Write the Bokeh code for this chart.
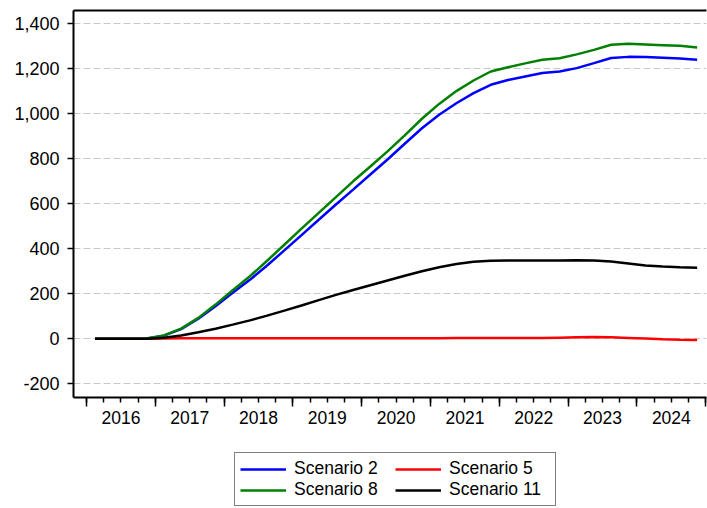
from bokeh.plotting import figure
from bokeh.layouts import column
from bokeh.models import (Range1d, LinearAxis, FixedTicker, NumeralTickFormatter,
                          Legend, LegendItem)
from bokeh.embed import file_html
from bokeh.resources import INLINE

# ---- data (quarterly, 2016Q1 .. 2024Q4) ----
years = ["2016", "2017", "2018", "2019", "2020", "2021", "2022", "2023", "2024"]
scenario_2 = [0, 0, 0, 1, 14, 43, 89, 145, 205, 262, 326, 393, 461, 529, 597, 663,
              730, 797, 867, 936, 996, 1047, 1092, 1129, 1150, 1166, 1181, 1188,
              1203, 1225, 1248, 1253, 1252, 1249, 1246, 1240]
scenario_5 = [0, 0, 0, 0.5, 1.5, 2, 2, 2, 2, 2, 2, 2, 2, 2, 2, 2, 2, 2, 2, 2, 2,
              3, 3, 3, 3, 3, 3, 5, 7, 8, 7, 4, 1, -2, -4, -5]
scenario_8 = [0, 0, 0, 1, 15, 45, 93, 152, 216, 278, 347, 418, 490, 560, 630, 700,
              766, 833, 904, 978, 1044, 1101, 1148, 1188, 1207, 1224, 1240, 1247,
              1264, 1284, 1307, 1311, 1308, 1305, 1302, 1295]
scenario_11 = [0, 0, 0, 0, 5, 15, 29, 45, 63, 82, 103, 125, 148, 172, 195, 217,
               238, 259, 280, 300, 318, 332, 342, 347, 348, 348, 348, 348, 349,
               348, 344, 335, 326, 321, 318, 316]
y_ticks = [-200, 0, 200, 400, 600, 800, 1000, 1200, 1400]
names = ["Scenario 2", "Scenario 5", "Scenario 8", "Scenario 11"]
colors = ["#0000ff", "#ff0000", "#008000", "#000000"]

FONT = "Liberation Sans"

# quarter positions: observation drawn at the middle of its quarter
quarters = [(int(y), q) for y in years for q in range(1, 5)]
xq = [yr + (q - 0.5) / 4 for yr, q in quarters]
year_bounds = [int(y) for y in years] + [int(years[-1]) + 1]
quarter_bounds = [int(years[0]) + k / 4 for k in range(len(quarters) + 1)]
year_mids = [int(y) + 0.5 for y in years]

p = figure(width=707, height=440, output_backend="svg", toolbar_location=None,
           x_range=Range1d(2015.811, 2025.011), y_range=Range1d(-260.9, 1459.1),
           min_border_left=73, min_border_right=1, min_border_top=10,
           min_border_bottom=43, x_axis_location=None, y_axis_location="left")
p.outline_line_color = None
p.background_fill_color = "white"
p.border_fill_color = "white"

# y axis
yt = FixedTicker(ticks=y_ticks)
ax = p.yaxis[0]
ax.ticker = yt
ax.formatter = NumeralTickFormatter(format="0,0")
ax.major_tick_out = 6
ax.major_tick_in = 0
ax.minor_tick_out = 0
ax.minor_tick_in = 0
ax.major_tick_line_width = 1.5
ax.axis_line_width = 2
ax.major_label_standoff = 8
ax.major_label_text_font = FONT
ax.major_label_text_font_size = "18px"
ax.major_label_text_color = "black"

p.ygrid.ticker = yt
p.ygrid.grid_line_color = "#c8c8c8"
p.ygrid.grid_line_dash = "7 3"
p.ygrid.grid_line_width = 1
p.xgrid.grid_line_color = None

# top frame line
top = LinearAxis(ticker=FixedTicker(ticks=[]), major_tick_out=0, major_tick_in=0,
                 minor_tick_out=0, minor_tick_in=0, major_label_standoff=0,
                 major_label_text_font_size="1px", major_label_text_color=None,
                 axis_line_width=2, axis_line_color="black")
p.add_layout(top, "above")

# bottom axis: year / quarter tick marks (labels not drawn)
ax1 = LinearAxis(ticker=FixedTicker(ticks=year_bounds, minor_ticks=quarter_bounds),
                 major_tick_out=9, major_tick_in=0, minor_tick_out=5, minor_tick_in=0,
                 major_tick_line_width=1.5, minor_tick_line_width=1.5,
                 major_label_text_font_size="1px", major_label_text_color=None,
                 major_label_standoff=0,
                 axis_line_width=2, axis_line_color="black")
p.add_layout(ax1, "below")

# year labels centred in each year
ax2 = LinearAxis(ticker=FixedTicker(ticks=year_mids),
                 major_label_overrides={m: y for m, y in zip(year_mids, years)},
                 axis_line_color=None, major_tick_line_color=None,
                 minor_tick_line_color=None, major_tick_out=0, major_tick_in=0,
                 minor_tick_out=0, minor_tick_in=0, major_label_standoff=4,
                 major_label_text_font=FONT, major_label_text_font_size="17.5px",
                 major_label_text_color="black")
p.add_layout(ax2, "below")

lw = 2.5
series = [scenario_2, scenario_5, scenario_8, scenario_11]
for k in range(len(series)):
    p.line(xq, series[k], line_color=colors[k], line_width=lw)

# legend strip below the chart (its lines lie outside this strip's ranges)
p2 = figure(width=707, height=68, output_backend="svg", toolbar_location=None,
            x_range=Range1d(0, 1), y_range=Range1d(0, 1), min_border=0,
            x_axis_location=None, y_axis_location=None)
p2.outline_line_color = None
p2.background_fill_color = "white"
p2.border_fill_color = "white"
p2.grid.visible = False
leg_r = [p2.line(xq, series[k], line_color=colors[k], line_width=lw)
         for k in range(len(series))]

# legend fills column by column: (2, 8) first column, (5, 11) second
order = [0, 2, 1, 3]
legend = Legend(items=[LegendItem(label=names[k], renderers=[leg_r[k]]) for k in order],
                location=(161, 2), ncols=2,
                label_text_font=FONT, label_text_font_size="17.5px",
                label_text_color="black",
                glyph_width=46, glyph_height=20, label_height=20, label_width=101,
                label_standoff=8, padding=5, spacing=0, margin=0,
                border_line_color="black", border_line_width=1.5,
                background_fill_color="white", background_fill_alpha=1)
p2.add_layout(legend, "center")

open("out.html", "w").write(file_html(column(p, p2), INLINE))
